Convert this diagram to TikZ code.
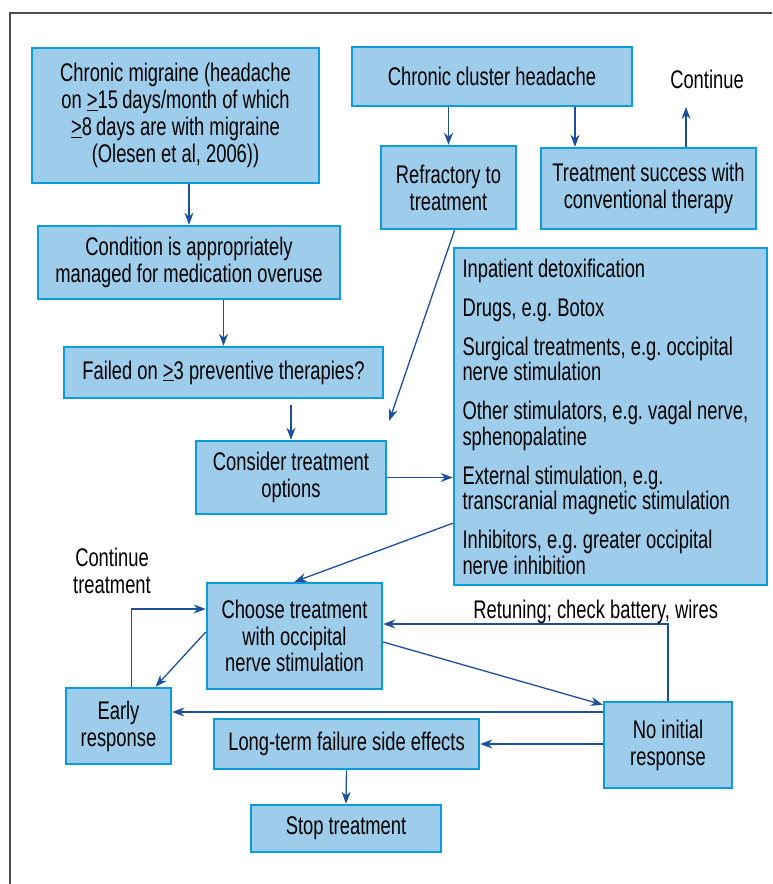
\documentclass[tikz,border=0pt]{standalone}
\usepackage{fontspec}
\setmainfont{Liberation Sans}[FakeStretch=0.72]
\usepackage{xcolor}
\usepackage{tikz}
\usetikzlibrary{arrows.meta, positioning, calc}
\definecolor{boxfill}{HTML}{9DCDEB}
\definecolor{boxline}{HTML}{0B9DDB}
\definecolor{flowblue}{HTML}{1C4F9C}
\tikzstyle{chart.box} = [rectangle, fill=boxfill, draw=boxline, line width=2.5pt, align=center, inner sep=4pt, font=\fontsize{25.5}{26.8}\selectfont]
\tikzstyle{chart.text} = [align=center, font=\fontsize{25.5}{26.8}\selectfont]
\tikzstyle{chart.flow} = [-{Stealth[length=12pt, width=9pt]}, line width=1.3pt, flowblue]

\begin{document}
\frenchspacing
\begin{tikzpicture}[x=1pt, y=-1pt]
\useasboundingbox (0,0) rectangle (772,884);
\draw[line width=2pt, black!70] (10,884) -- (10,13) -- (772,13);

\node[chart.box, minimum width=287pt, minimum height=135pt] (migraine) at (175.5,115.5) {Chronic migraine (headache\\ on \underline{>}15\,days/month of which\\ \underline{>}8\,days are with migraine\\ (Olesen et al, 2006))};
\node[chart.box, minimum width=280pt, minimum height=59pt] (cluster) at (492,76.5) {Chronic cluster headache};
\node[chart.text] (contTop) at (707,79) {Continue};
\node[chart.box, minimum width=135pt, minimum height=83pt] (refractory) at (448.5,187.5) {Refractory to\\ treatment};
\node[chart.box, minimum width=215pt, minimum height=81pt] (success) at (648.5,188.5) {Treatment success with\\ conventional therapy};
\node[chart.box, minimum width=302pt, minimum height=73pt] (condition) at (189,262.5) {Condition is appropriately\\ managed for medication overuse};
\node[chart.box, minimum width=319pt, minimum height=51pt] (failed) at (223.5,372.5) {Failed on \underline{>}3 preventive therapies?};
\node[chart.box, minimum width=190pt, minimum height=73pt] (consider) at (291,477.5) {Consider treatment\\ options};
\node[chart.box, align=flush left, text width=296pt, inner xsep=8.5pt, minimum height=337pt, font=\fontsize{25.5}{25.5}\selectfont] (options) at (610.5,416.5) {Inpatient detoxification\\[13.5pt] Drugs, e.g. Botox\\[13.5pt] Surgical treatments, e.g. occipital\\ nerve stimulation\\[13.5pt] Other stimulators, e.g. vagal nerve,\\ sphenopalatine\\[13.5pt] External stimulation, e.g.\\ transcranial magnetic stimulation\\[13.5pt] Inhibitors, e.g. greater occipital\\ nerve inhibition};
\node[chart.text] (contLow) at (112,571) {Continue\\ treatment};
\node[chart.box, minimum width=175pt, minimum height=106pt] (choose) at (294.5,636) {Choose treatment\\ with occipital\\ nerve stimulation};
\node[chart.box, minimum width=105pt, minimum height=76pt] (early) at (118.5,726) {Early\\ response};
\node[chart.box, minimum width=128pt, minimum height=86pt] (noinit) at (668,745) {No initial\\ response};
\node[chart.box, minimum width=265pt, minimum height=50pt] (longterm) at (346.5,744) {Long-term failure side effects};
\node[chart.box, minimum width=190pt, minimum height=47pt] (stop) at (346,828.5) {Stop treatment};

\coordinate (upend) at (686,107);
\coordinate (succin) at ([xshift=-73.5pt]success.north);
\coordinate (noleft) at ([yshift=33pt]noinit.west);

\draw[chart.flow] (refractory.north |- cluster.south) -- (refractory.north);
\draw[chart.flow] (succin |- cluster.south) -- (succin);
\draw[chart.flow] ([xshift=37.5pt]success.north) -- (upend);
\draw[chart.flow] (condition.north |- migraine.south) -- (condition.north);
\draw[chart.flow] (failed.north |- condition.south) -- (failed.north);
\draw[chart.flow] ($(consider.north |- failed.south)+(0,6)$) -- (consider.north);
\draw[chart.flow] ([xshift=6pt]refractory.south) -- ($(consider.north east)+(2,-19)$);
\draw[chart.flow] (consider.east) -- (options.west |- consider.east);
\draw[chart.flow] ([yshift=63pt]options.south west) -- (choose.north);
\draw[chart.flow] ([xshift=13pt]early.north) |- ([yshift=27pt]choose.west);
\draw[chart.flow] ([yshift=4pt]choose.west) -- ([xshift=37pt]early.north);
\draw[chart.flow] (noinit.north) |- node[pos=0.627, anchor=base, yshift=6pt, chart.text, text=black] {Retuning; check battery, wires} ([yshift=12pt]choose.east);
\draw[chart.flow] ([yshift=-6pt]choose.east) -- ([yshift=-4pt]noinit.north west);
\draw[chart.flow] (noleft) -- (noleft -| early.east);
\draw[chart.flow] (longterm.east -| noinit.west) -- (longterm.east);
\draw[chart.flow] (longterm.south) -- (stop.north);
\end{tikzpicture}
\end{document}
